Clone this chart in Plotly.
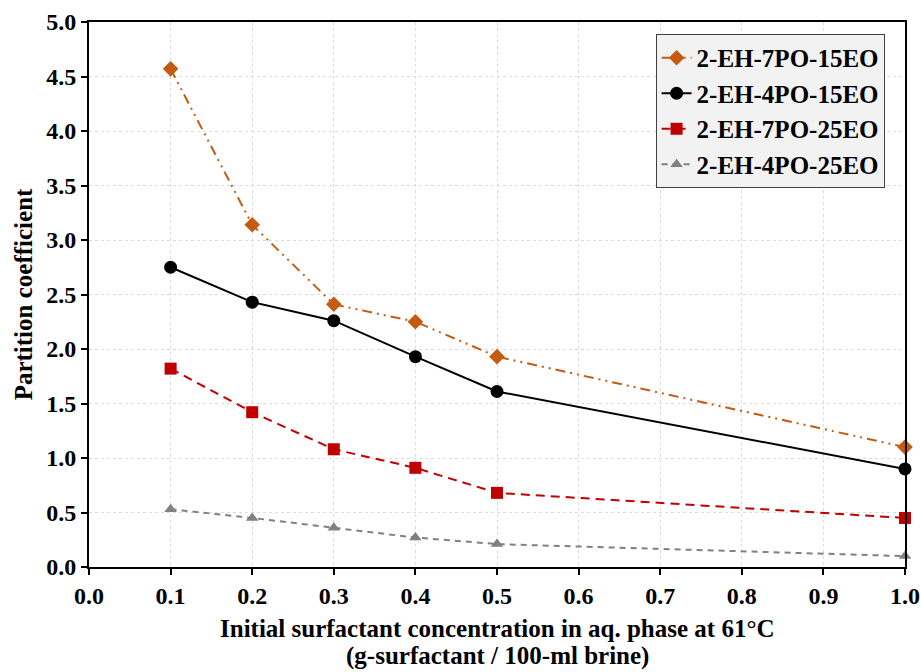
import plotly.graph_objects as go

# Initial surfactant concentration (g-surfactant / 100-ml brine)
conc = [0.1, 0.2, 0.3, 0.4, 0.5, 1.0]

# Partition coefficients per surfactant
eh7po15eo = [4.57, 3.14, 2.41, 2.25, 1.93, 1.10]
eh4po15eo = [2.75, 2.43, 2.26, 1.93, 1.61, 0.90]
eh7po25eo = [1.82, 1.42, 1.08, 0.91, 0.68, 0.45]
eh4po25eo = [0.53, 0.45, 0.36, 0.27, 0.21, 0.10]

x_ticks = [0.0, 0.1, 0.2, 0.3, 0.4, 0.5, 0.6, 0.7, 0.8, 0.9, 1.0]
y_ticks = [0.0, 0.5, 1.0, 1.5, 2.0, 2.5, 3.0, 3.5, 4.0, 4.5, 5.0]

x_title_lines = ["Initial surfactant concentration in aq. phase at 61°C",
                 "(g-surfactant / 100-ml brine)"]
y_title = "Partition coefficient"

FONT = "Liberation Serif, Times New Roman, serif"

series = [
    ("2-EH-7PO-15EO", eh7po15eo, "#C55A11", "10px,5px,2px,5px,2px,5px", "diamond", 12),
    ("2-EH-4PO-15EO", eh4po15eo, "#000000", "solid", "circle", 13),
    ("2-EH-7PO-25EO", eh7po25eo, "#C00000", "9px,6px", "square", 12),
    ("2-EH-4PO-25EO", eh4po25eo, "#808080", "6px,5px", "triangle-up", 11),
]

fig = go.Figure()
for name, vals, color, dash, symbol, size in series:
    fig.add_trace(go.Scatter(
        x=conc, y=vals, name=name, mode="lines+markers",
        line=dict(color=color, width=2, dash=dash),
        marker=dict(color=color, symbol=symbol, size=size),
        cliponaxis=False,
    ))

axis_common = dict(
    showline=True, linecolor="black", linewidth=2, mirror=True,
    ticks="outside", ticklen=6, tickwidth=2, tickcolor="black",
    showgrid=True, gridcolor="#dcdcdc", griddash="dot", gridwidth=1,
    zeroline=False, automargin=False,
    tickfont=dict(family=FONT, size=24, color="black", weight="bold"),
)

fig.update_xaxes(
    range=[0, 1.0], tickvals=x_ticks, ticktext=[f"{v:.1f}" for v in x_ticks],
    **axis_common,
)
fig.update_yaxes(
    range=[0, 5.0], tickvals=y_ticks, ticktext=[f"{v:.1f}" for v in y_ticks],
    title=dict(text=y_title, standoff=6,
               font=dict(family=FONT, size=25, color="black", weight="bold")),
    **axis_common,
)

# Two-line x-axis title, one annotation per line, below the tick labels
for line_text, shift in zip(x_title_lines, [-61, -89]):
    fig.add_annotation(
        text=line_text, xref="paper", yref="paper", x=0.5, y=0,
        xanchor="center", yanchor="middle", yshift=shift, showarrow=False,
        font=dict(family=FONT, size=25, color="black", weight="bold"),
    )

fig.update_layout(
    width=921, height=672,
    margin=dict(l=89, r=16, t=22, b=105),
    plot_bgcolor="white", paper_bgcolor="white",
    showlegend=True,
    legend=dict(
        x=0.975, y=0.978, xanchor="right", yanchor="top",
        bgcolor="#f2f2f2", bordercolor="#404040", borderwidth=1,
        font=dict(family=FONT, size=25, color="black", weight="bold"),
        itemwidth=30, tracegroupgap=0,
    ),
)

fig.write_html("out.html")
